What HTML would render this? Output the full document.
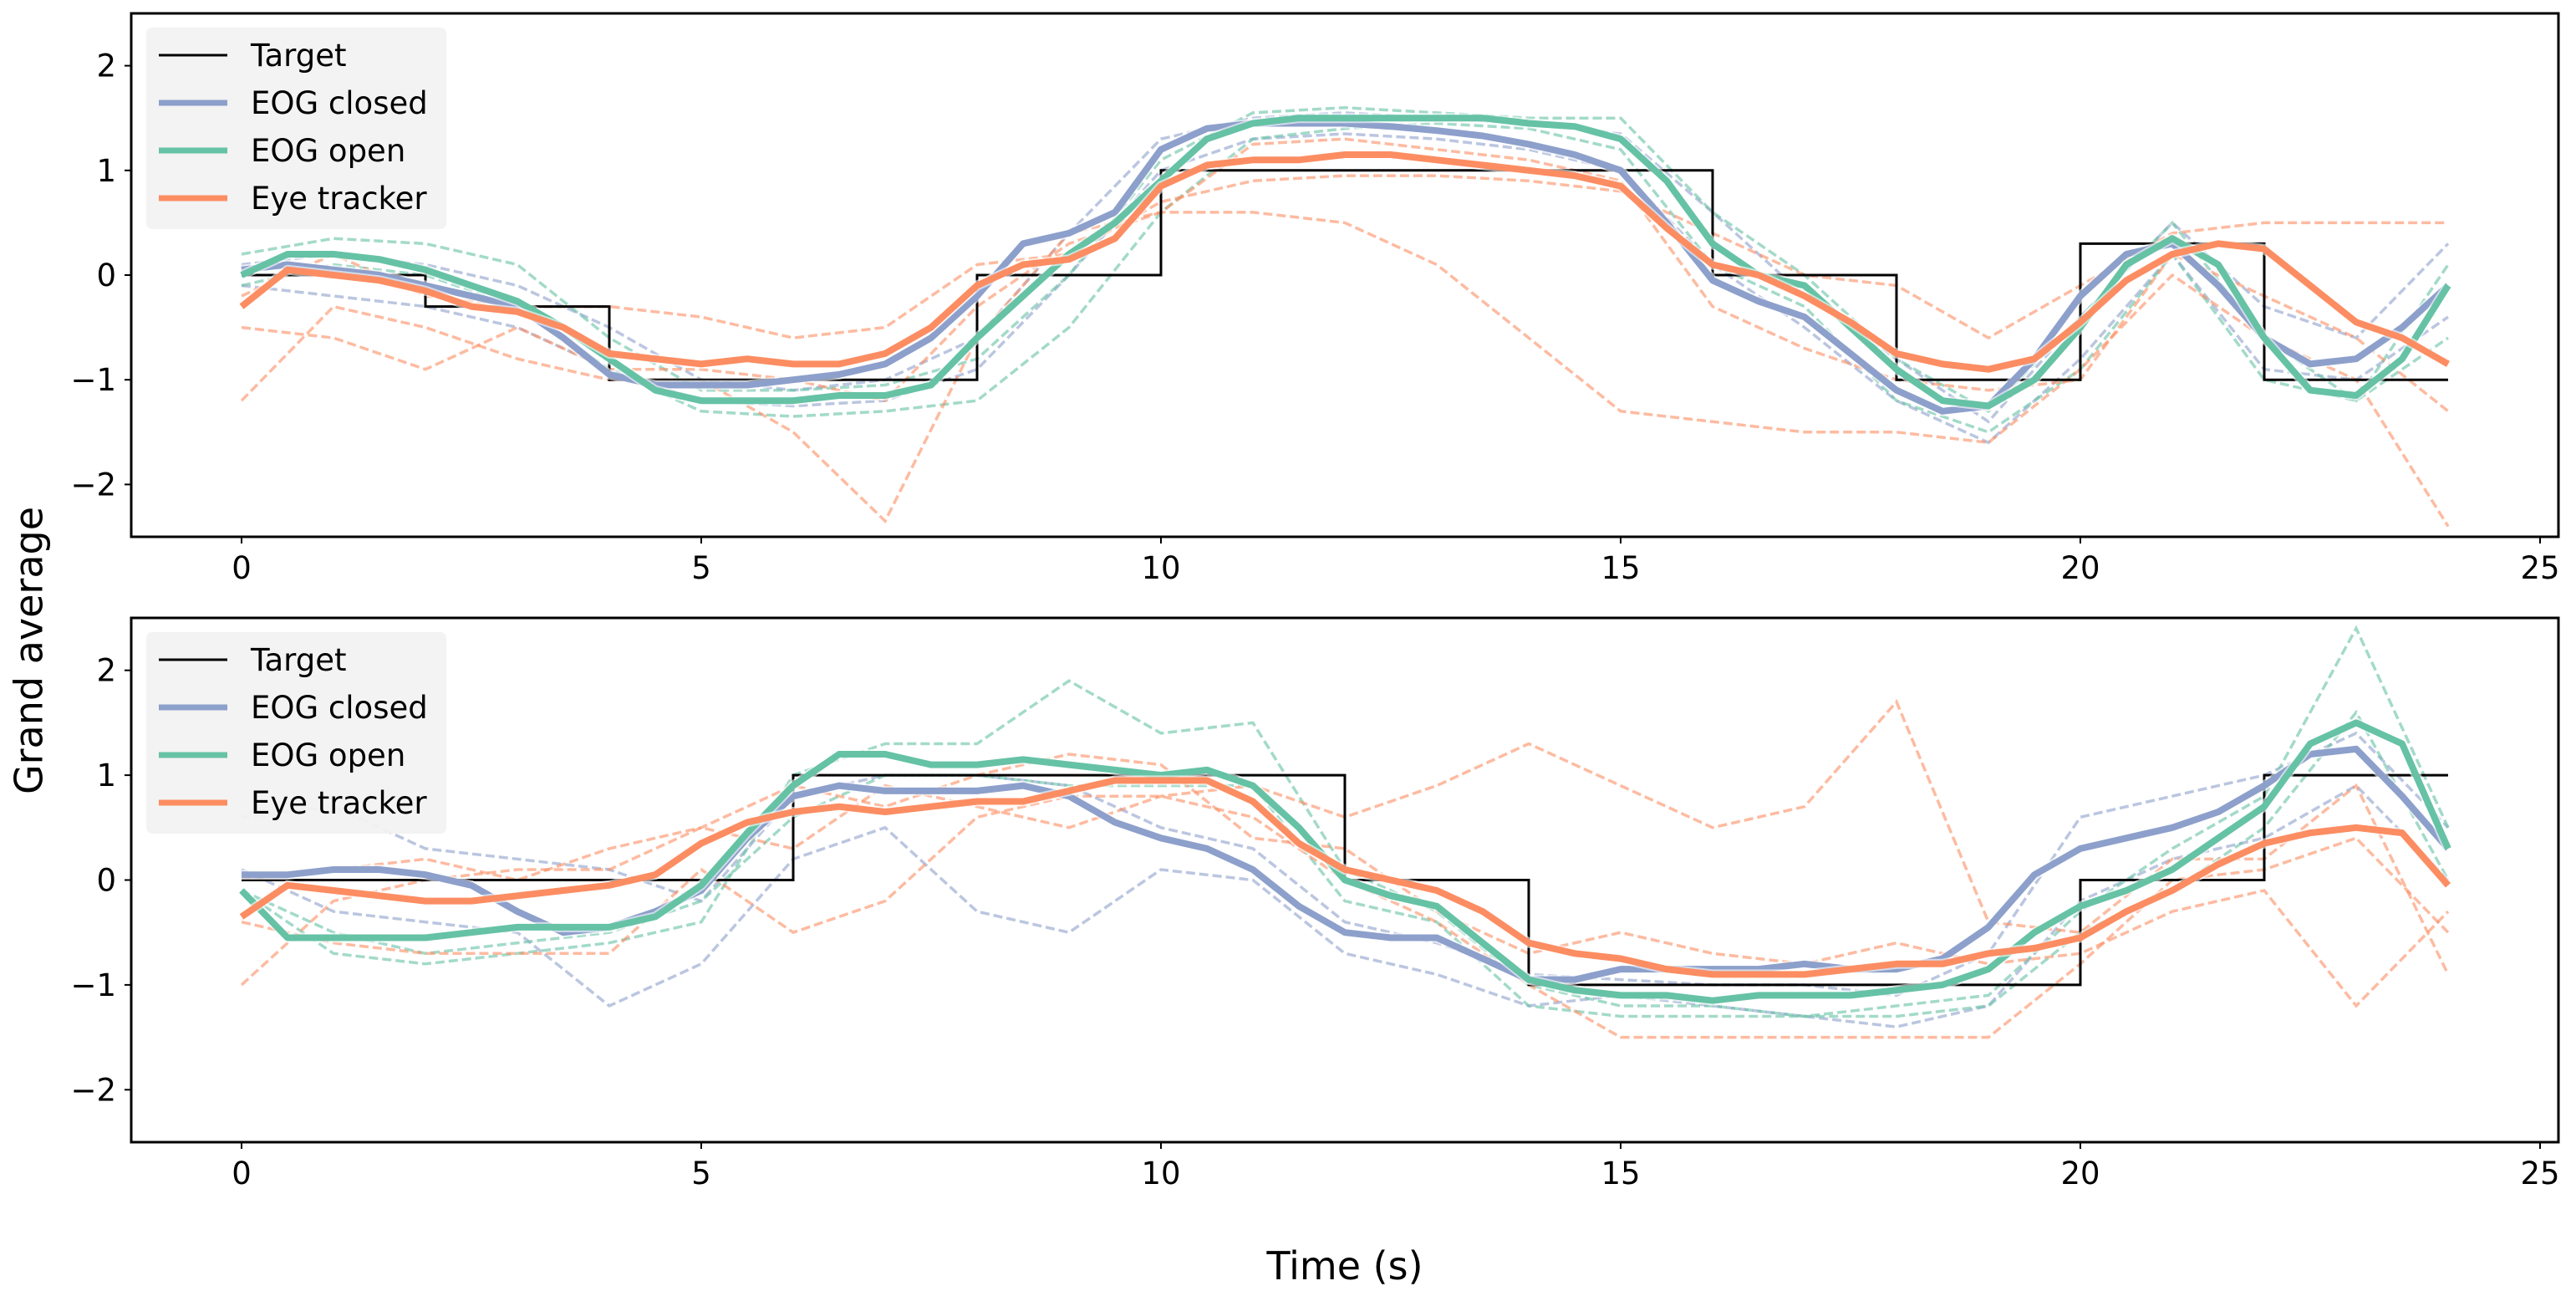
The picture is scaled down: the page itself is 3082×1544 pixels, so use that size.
<!DOCTYPE html>
<html><head><meta charset="utf-8"><style>
html,body{margin:0;padding:0;background:#fff;}
svg{display:block;font-family:"DejaVu Sans","Liberation Sans",sans-serif;}
</style></head><body>
<svg id="chart" width="3082" height="1544" viewBox="0 0 3082 1544" xmlns="http://www.w3.org/2000/svg">
<rect width="3082" height="1544" fill="#fff"/>
<text x="38" y="778" font-size="46" text-anchor="middle" transform="rotate(-90 38 778)" dominant-baseline="middle">Grand average</text>
<text x="1609" y="1530" font-size="46" text-anchor="middle">Time (s)</text>
</svg>
<script>
const tFine = [0,0.5,1,1.5,2,2.5,3,3.5,4,4.5,5,5.5,6,6.5,7,7.5,8,8.5,9,9.5,10,10.5,11,11.5,12,12.5,13,13.5,14,14.5,15,15.5,16,16.5,17,17.5,18,18.5,19,19.5,20,20.5,21,21.5,22,22.5,23,23.5,24];
const tCoarse = [0,1,2,3,4,5,6,7,8,9,10,11,12,13,14,15,16,17,18,19,20,21,22,23,24];
const xTicks = [0,5,10,15,20,25];
const yTicks = [-2,-1,0,1,2];
const yTickLabels = ["\u22122","\u22121","0","1","2"];
const legendLabels = ["Target","EOG closed","EOG open","Eye tracker"];

const targetTop = [[0,2,0],[2,4,-0.3],[4,8,-1],[8,10,0],[10,16,1],[16,18,0],[18,20,-1],[20,22,0.3],[22,24,-1]];
const targetBottom = [[0,6,0],[6,12,1],[12,14,0],[14,20,-1],[20,22,0],[22,24,1]];

const topClosed = [0.05,0.1,0.05,0,-0.1,-0.2,-0.3,-0.6,-0.95,-1.05,-1.05,-1.05,-1.0,-0.95,-0.85,-0.6,-0.2,0.3,0.4,0.6,1.2,1.4,1.45,1.45,1.45,1.42,1.38,1.33,1.25,1.15,1.0,0.5,-0.05,-0.25,-0.4,-0.75,-1.1,-1.3,-1.25,-0.8,-0.2,0.2,0.3,-0.1,-0.6,-0.85,-0.8,-0.5,-0.1];
const topOpen = [0,0.2,0.2,0.15,0.05,-0.1,-0.25,-0.5,-0.8,-1.1,-1.2,-1.2,-1.2,-1.15,-1.15,-1.05,-0.6,-0.2,0.2,0.5,0.9,1.3,1.45,1.5,1.5,1.5,1.5,1.5,1.45,1.42,1.3,0.9,0.3,0,-0.1,-0.5,-0.9,-1.2,-1.25,-1.0,-0.5,0.1,0.35,0.1,-0.6,-1.1,-1.15,-0.8,-0.1];
const topTracker = [-0.3,0.05,0,-0.05,-0.15,-0.3,-0.35,-0.5,-0.75,-0.8,-0.85,-0.8,-0.85,-0.85,-0.75,-0.5,-0.1,0.1,0.15,0.35,0.85,1.05,1.1,1.1,1.15,1.15,1.1,1.05,1.0,0.95,0.85,0.45,0.1,0,-0.2,-0.45,-0.75,-0.85,-0.9,-0.8,-0.45,-0.05,0.2,0.3,0.25,-0.1,-0.45,-0.6,-0.85];

const botClosed = [0.05,0.05,0.1,0.1,0.05,-0.05,-0.3,-0.5,-0.45,-0.3,-0.1,0.4,0.8,0.9,0.85,0.85,0.85,0.9,0.8,0.55,0.4,0.3,0.1,-0.25,-0.5,-0.55,-0.55,-0.75,-0.95,-0.95,-0.85,-0.85,-0.85,-0.85,-0.8,-0.85,-0.85,-0.75,-0.45,0.05,0.3,0.4,0.5,0.65,0.9,1.2,1.25,0.8,0.3];
const botOpen = [-0.1,-0.55,-0.55,-0.55,-0.55,-0.5,-0.45,-0.45,-0.45,-0.35,-0.05,0.45,0.9,1.2,1.2,1.1,1.1,1.15,1.1,1.05,1.0,1.05,0.9,0.5,0,-0.15,-0.25,-0.6,-0.95,-1.05,-1.1,-1.1,-1.15,-1.1,-1.1,-1.1,-1.05,-1.0,-0.85,-0.5,-0.25,-0.1,0.1,0.4,0.7,1.3,1.5,1.3,0.3];
const botTracker = [-0.35,-0.05,-0.1,-0.15,-0.2,-0.2,-0.15,-0.1,-0.05,0.05,0.35,0.55,0.65,0.7,0.65,0.7,0.75,0.75,0.85,0.95,0.95,0.95,0.75,0.35,0.1,0,-0.1,-0.3,-0.6,-0.7,-0.75,-0.85,-0.9,-0.9,-0.9,-0.85,-0.8,-0.8,-0.7,-0.65,-0.55,-0.3,-0.1,0.15,0.35,0.45,0.5,0.45,-0.05];

const topClosedA = [0.1,0.2,0.1,-0.1,-0.5,-1.0,-1.1,-1.0,-0.6,0.4,1.3,1.5,1.55,1.5,1.45,1.35,0.6,-0.2,-0.8,-1.4,-0.4,0.5,-0.3,-0.6,0.3];
const topClosedB = [-0.1,-0.2,-0.3,-0.5,-0.9,-1.2,-1.25,-1.2,-0.9,0.0,1.0,1.3,1.35,1.3,1.2,1.0,0.1,-0.5,-1.2,-1.6,-0.8,0.2,-0.9,-1.0,-0.4];
const topOpenA = [0.2,0.35,0.3,0.1,-0.6,-1.1,-1.1,-1.05,-0.8,0.0,1.1,1.55,1.6,1.55,1.5,1.5,0.6,0.0,-0.8,-1.3,-0.4,0.5,-0.6,-1.2,0.1];
const topOpenB = [-0.1,0.1,0.0,-0.3,-0.9,-1.3,-1.35,-1.3,-1.2,-0.5,0.6,1.3,1.4,1.45,1.4,1.2,0.1,-0.3,-1.2,-1.5,-0.9,0.2,-1.0,-1.2,-0.6];
const topTrackerA = [-1.2,-0.3,-0.5,-0.8,-1.0,-1.0,-1.5,-2.35,-0.6,0.4,0.6,0.6,0.5,0.1,-0.6,-1.3,-1.4,-1.5,-1.5,-1.6,-0.9,0.0,-0.6,-1.0,-2.4];
const topTrackerB = [-0.2,0.2,-0.2,-0.3,-0.3,-0.4,-0.6,-0.5,0.1,0.2,0.7,0.9,0.95,0.95,0.9,0.8,0.4,0.0,-0.1,-0.6,-0.1,0.4,0.5,0.5,0.5];
const topTrackerC = [-0.5,-0.6,-0.9,-0.5,-0.9,-0.9,-1.0,-1.2,-0.3,0.3,0.6,1.25,1.3,1.2,1.1,0.9,-0.3,-0.7,-1.0,-1.1,-1.0,0.2,-0.2,-0.6,-1.3];

const botClosedA = [0.6,0.7,0.3,0.2,0.1,-0.2,0.8,1.0,1.0,0.9,0.5,0.3,-0.4,-0.6,-0.9,-0.95,-1.0,-1.0,-1.1,-0.7,0.6,0.8,1.0,1.4,0.5];
const botClosedB = [0.1,-0.3,-0.4,-0.5,-1.2,-0.8,0.2,0.5,-0.3,-0.5,0.1,0.0,-0.7,-0.9,-1.2,-1.1,-1.2,-1.3,-1.4,-1.2,-0.2,0.2,0.4,0.9,0.0];
const botOpenA = [-0.1,-0.7,-0.8,-0.7,-0.6,-0.4,1.0,1.3,1.3,1.9,1.4,1.5,0.1,-0.3,-1.0,-1.2,-1.2,-1.3,-1.2,-1.1,-0.3,0.3,0.8,2.4,0.5];
const botOpenB = [-0.1,-0.5,-0.7,-0.6,-0.5,-0.2,0.6,1.0,1.0,0.9,0.9,0.9,-0.2,-0.4,-1.2,-1.3,-1.3,-1.3,-1.3,-1.2,-0.5,-0.1,0.5,1.6,0.0];
const botTrackerA = [-1.0,-0.2,0.0,0.1,0.1,0.5,0.3,0.9,0.7,0.5,0.8,0.9,0.6,0.9,1.3,0.9,0.5,0.7,1.7,-0.4,-0.5,0.2,0.2,0.9,-0.9];
const botTrackerB = [-0.4,-0.6,-0.7,-0.7,-0.7,0.1,-0.5,-0.2,0.6,0.8,0.8,0.6,0.0,-0.4,-1.0,-1.5,-1.5,-1.5,-1.5,-1.5,-0.8,0.0,0.1,0.4,-0.5];
const botTrackerC = [0.0,0.1,0.2,0.0,0.3,0.5,0.9,0.7,1.0,1.2,1.1,0.4,0.3,-0.3,-0.7,-0.5,-0.7,-0.8,-0.6,-0.8,-0.7,-0.3,-0.1,-1.2,-0.3];

const NS = "http://www.w3.org/2000/svg";
const svg = document.getElementById("chart");
const BLUE = "#8da0cb", GREEN = "#66c2a5", ORANGE = "#fc8d62";
const X0 = 157, X1 = 3061, XMIN = -1.2, XMAX = 25.2;
function sx(v){ return X0 + (v - XMIN) / (XMAX - XMIN) * (X1 - X0); }
function mk(tag, attrs, parent){ const e = document.createElementNS(NS, tag); for (const k in attrs) e.setAttribute(k, attrs[k]); (parent||svg).appendChild(e); return e; }

function panel(name, top, bottom, target, thick, dashed){
  const sy = v => top + (2.5 - v) / 5 * (bottom - top);
  const g = mk("g", {});
  
  
  dashed.forEach(([arr, col]) => {
    const d = arr.map((v, j) => (j ? "L" : "M") + sx(tCoarse[j]).toFixed(1) + "," + sy(v).toFixed(1)).join("");
    const p = mk("path", {d, fill:"none", stroke:col, "stroke-width":3.5, "stroke-dasharray":"11,5", opacity:0.6}, g);
    
    
  });
  let td = "";
  target.forEach(([a, b, v], i) => { td += (i ? "L" : "M") + sx(a).toFixed(1) + "," + sy(v).toFixed(1) + "L" + sx(b).toFixed(1) + "," + sy(v).toFixed(1); });
  const tp = mk("path", {d:td, fill:"none", stroke:"#000", "stroke-width":3}, g);
  
  
  thick.forEach(([arr, col, nm]) => {
    const d = arr.map((v, j) => (j ? "L" : "M") + sx(tFine[j]).toFixed(1) + "," + sy(v).toFixed(1)).join("");
    mk("path", {d, fill:"none", stroke:"#fff", "stroke-width":12, "stroke-linejoin":"round", opacity:0.6}, g);
    const p = mk("path", {d, fill:"none", stroke:col, "stroke-width":8, "stroke-linejoin":"round"}, g);
    
    
  });
  const fr = mk("rect", {x:X0, y:top, width:X1-X0, height:bottom-top, fill:"none", stroke:"#000", "stroke-width":3}, g);
  
  
  yTicks.forEach((v, i) => {
    mk("line", {x1:X0-8, x2:X0, y1:sy(v), y2:sy(v), stroke:"#000", "stroke-width":2}, g);
    const t = mk("text", {x:X0-18, y:sy(v)+13, "font-size":37, "text-anchor":"end"}, g);
    t.textContent = yTickLabels[i];
    
    
  });
  xTicks.forEach(v => {
    mk("line", {x1:sx(v), x2:sx(v), y1:bottom, y2:bottom+8, stroke:"#000", "stroke-width":2}, g);
    const t = mk("text", {x:sx(v), y:bottom+50, "font-size":37, "text-anchor":"middle"}, g);
    t.textContent = v;
    
    
  });
  const lg = mk("g", {}, g);
  
  
  const ly = top + 17;
  mk("rect", {x:175, y:ly, width:359, height:241, rx:7, fill:"#f2f2f2", opacity:0.95}, lg);
  const cols = ["#000", BLUE, GREEN, ORANGE];
  legendLabels.forEach((lab, i) => {
    const yy = ly + 33 + i * 57;
    mk("line", {x1:190, x2:272, y1:yy, y2:yy, stroke:cols[i], "stroke-width":i ? 7 : 3}, lg);
    const t = mk("text", {x:300, y:yy+13, "font-size":37}, lg);
    t.textContent = lab;
    
    
  });
}

panel("top-panel", 16, 642, targetTop,
  [[topClosed, BLUE, "eog-closed-line"], [topOpen, GREEN, "eog-open-line"], [topTracker, ORANGE, "eye-tracker-line"]],
  [[topClosedA, BLUE], [topClosedB, BLUE], [topOpenA, GREEN], [topOpenB, GREEN], [topTrackerA, ORANGE], [topTrackerB, ORANGE], [topTrackerC, ORANGE]]);
panel("bottom-panel", 739, 1366, targetBottom,
  [[botClosed, BLUE, "eog-closed-line"], [botOpen, GREEN, "eog-open-line"], [botTracker, ORANGE, "eye-tracker-line"]],
  [[botClosedA, BLUE], [botClosedB, BLUE], [botOpenA, GREEN], [botOpenB, GREEN], [botTrackerA, ORANGE], [botTrackerB, ORANGE], [botTrackerC, ORANGE]]);
</script>
</body></html>
